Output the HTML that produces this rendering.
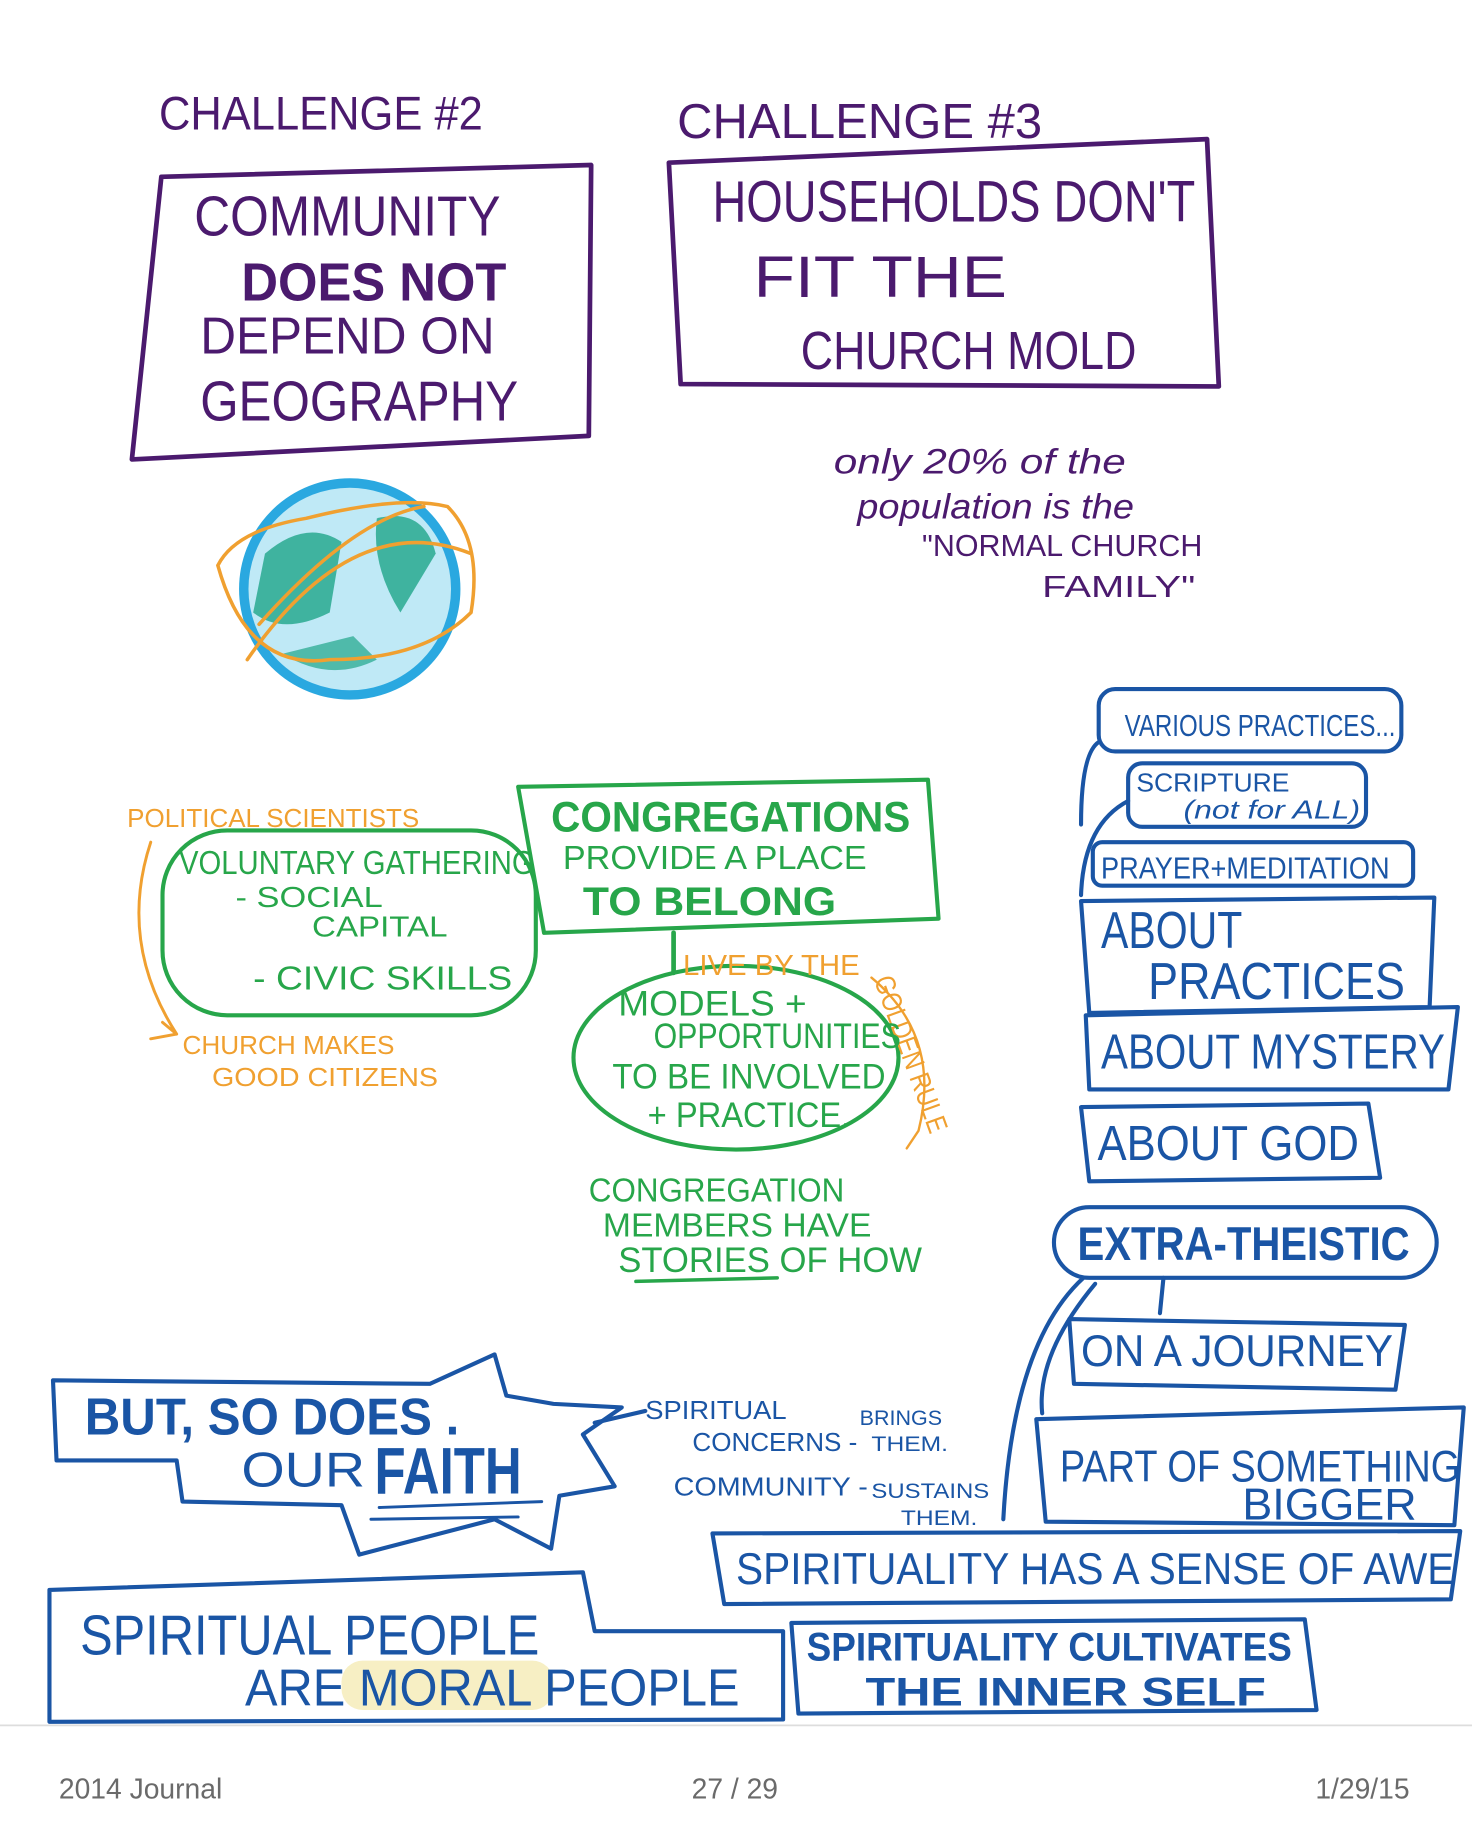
<!DOCTYPE html>
<html><head><meta charset="utf-8"><style>
html,body{margin:0;padding:0;background:#fff;width:1472px;height:1848px;overflow:hidden}
svg{display:block}
text{font-family:"Liberation Sans Narrow","Liberation Sans",sans-serif}
</style></head><body>
<svg width="1472" height="1848" viewBox="0 0 1250 1569" xmlns="http://www.w3.org/2000/svg">
<g fill="none" stroke-linejoin="round" stroke-linecap="round">
<polygon points="137,150 502,140 500,370 112,390" stroke="#4b1a6e" stroke-width="4"/>
<polygon points="568,138 1025,118 1035,328 578,326" stroke="#4b1a6e" stroke-width="4"/>
<rect x="138" y="705" width="317" height="157" rx="55" stroke="#27a64a" stroke-width="3.5"/>
<polygon points="440,668 788,662 797,780 462,792" stroke="#27a64a" stroke-width="3.5"/>
<line x1="572" y1="792" x2="572" y2="826" stroke="#27a64a" stroke-width="4"/>
<ellipse cx="625" cy="898" rx="138" ry="78" stroke="#27a64a" stroke-width="3.5"/>
<line x1="540" y1="1088" x2="660" y2="1085" stroke="#27a64a" stroke-width="3"/>
<path d="M128,715 Q100,800 150,878 M138,868 L150,878 L128,882" stroke="#f0a030" stroke-width="2.5"/>
<path d="M740,830 Q800,880 780,960 L770,975" stroke="#f0a030" stroke-width="2"/>
<circle cx="297" cy="500" r="90" fill="#bfe9f6" stroke="#2aa8e0" stroke-width="8"/>
<path d="M225,470 Q260,440 290,460 L280,520 Q240,540 215,520Z" fill="#1fa58a" stroke="none" opacity=".8"/>
<path d="M320,440 Q360,430 370,470 L340,520 Q315,480 320,440Z" fill="#1fa58a" stroke="none" opacity=".8"/>
<path d="M240,555 Q280,580 320,560 L300,540Z" fill="#1fa58a" stroke="none" opacity=".7"/>
<path d="M185,480 Q200,450 260,440 Q340,420 380,430 Q410,460 400,520 Q360,560 280,560 Q210,570 185,480 M210,560 Q300,430 400,470 M220,530 Q300,440 360,430" stroke="#f0a030" stroke-width="3"/>
<g stroke="#1a55a5" stroke-width="3.5">
<rect x="933" y="585" width="257" height="53" rx="14"/>
<rect x="958" y="648" width="202" height="54" rx="12"/>
<rect x="928" y="715" width="272" height="37" rx="8"/>
<path d="M958,680 Q920,700 918,760 M933,630 Q918,640 918,700"/>
<polygon points="918,765 1218,762 1214,855 925,860"/>
<polygon points="922,862 1238,855 1230,925 925,925"/>
<polygon points="918,940 1162,937 1172,1000 925,1003"/>
<rect x="895" y="1025" width="325" height="60" rx="30"/>
<path d="M988,1085 L985,1115 M920,1085 Q860,1140 852,1290 M930,1090 Q880,1150 885,1200"/>
<polygon points="908,1120 1193,1125 1185,1180 912,1175"/>
<polygon points="880,1205 1243,1195 1235,1295 888,1292"/>
<polygon points="605,1302 1240,1300 1232,1358 615,1362"/>
<polygon points="672,1378 1108,1375 1118,1452 678,1455"/>
<polygon points="42,1350 495,1335 505,1385 665,1385 665,1460 42,1462"/>
<path d="M45,1172 L365,1175 L420,1150 L430,1185 L470,1192 L528,1195 L495,1218 L522,1262 L475,1270 L468,1315 L420,1290 L305,1320 L290,1278 L155,1275 L150,1240 L48,1240 Z"/>
<path d="M322,1280 L460,1275 M315,1290 L440,1288" stroke-width="2.5"/>
<path d="M505,1208 L548,1198"/>
</g>
</g>
<line x1="0" y1="1465" x2="1250" y2="1465" stroke="#ddd" stroke-width="1.5"/>

<g fill="#4b1a6e">
<text x="135" y="110" font-size="40" textLength="275" lengthAdjust="spacingAndGlyphs">CHALLENGE #2</text>
<text x="575" y="117" font-size="42" textLength="310" lengthAdjust="spacingAndGlyphs">CHALLENGE #3</text>
<text x="165" y="200" font-size="48" textLength="260" lengthAdjust="spacingAndGlyphs">COMMUNITY</text>
<text x="205" y="255" font-size="46" font-weight="bold" textLength="225" lengthAdjust="spacingAndGlyphs">DOES NOT</text>
<text x="170" y="300" font-size="44" textLength="250" lengthAdjust="spacingAndGlyphs">DEPEND ON</text>
<text x="170" y="357" font-size="48" textLength="270" lengthAdjust="spacingAndGlyphs">GEOGRAPHY</text>
<text x="605" y="188" font-size="50" textLength="410" lengthAdjust="spacingAndGlyphs">HOUSEHOLDS DON'T</text>
<text x="640" y="252" font-size="50" textLength="215" lengthAdjust="spacingAndGlyphs">FIT  THE</text>
<text x="680" y="313" font-size="46" textLength="285" lengthAdjust="spacingAndGlyphs">CHURCH MOLD</text>
<text x="708" y="402" font-size="30" font-style="italic" textLength="248" lengthAdjust="spacingAndGlyphs">only 20% of the</text>
<text x="728" y="440" font-size="30" font-style="italic" textLength="235" lengthAdjust="spacingAndGlyphs">population is the</text>
<text x="783" y="472" font-size="26" textLength="238" lengthAdjust="spacingAndGlyphs">"NORMAL CHURCH</text>
<text x="885" y="507" font-size="26" textLength="130" lengthAdjust="spacingAndGlyphs">FAMILY"</text>
</g>

<g fill="#f0a030">
<text x="108" y="702" font-size="22" textLength="248" lengthAdjust="spacingAndGlyphs">POLITICAL SCIENTISTS</text>
<text x="155" y="895" font-size="22" textLength="180" lengthAdjust="spacingAndGlyphs">CHURCH MAKES</text>
<text x="180" y="922" font-size="22" textLength="192" lengthAdjust="spacingAndGlyphs">GOOD CITIZENS</text>
<text x="580" y="828" font-size="24" textLength="150" lengthAdjust="spacingAndGlyphs">LIVE BY THE</text>
<text transform="translate(742,832) rotate(70)" font-size="24" textLength="140" lengthAdjust="spacingAndGlyphs">GOLDEN RULE</text>
</g>

<g fill="#27a64a">
<text x="152" y="742" font-size="28" textLength="302" lengthAdjust="spacingAndGlyphs">VOLUNTARY GATHERING</text>
<text x="200" y="770" font-size="24" textLength="125" lengthAdjust="spacingAndGlyphs">- SOCIAL</text>
<text x="265" y="795" font-size="24" textLength="115" lengthAdjust="spacingAndGlyphs">CAPITAL</text>
<text x="215" y="840" font-size="28" textLength="220" lengthAdjust="spacingAndGlyphs">- CIVIC SKILLS</text>
<text x="468" y="706" font-size="36" font-weight="bold" textLength="305" lengthAdjust="spacingAndGlyphs">CONGREGATIONS</text>
<text x="478" y="738" font-size="28" textLength="258" lengthAdjust="spacingAndGlyphs">PROVIDE A PLACE</text>
<text x="495" y="777" font-size="34" font-weight="bold" textLength="215" lengthAdjust="spacingAndGlyphs">TO BELONG</text>
<text x="525" y="862" font-size="30" textLength="160" lengthAdjust="spacingAndGlyphs">MODELS +</text>
<text x="555" y="890" font-size="30" textLength="210" lengthAdjust="spacingAndGlyphs">OPPORTUNITIES</text>
<text x="520" y="924" font-size="30" textLength="232" lengthAdjust="spacingAndGlyphs">TO BE INVOLVED</text>
<text x="550" y="957" font-size="30" textLength="172" lengthAdjust="spacingAndGlyphs">+ PRACTICE.</text>
<text x="500" y="1020" font-size="28" textLength="217" lengthAdjust="spacingAndGlyphs">CONGREGATION</text>
<text x="512" y="1050" font-size="28" textLength="228" lengthAdjust="spacingAndGlyphs">MEMBERS HAVE</text>
<text x="525" y="1080" font-size="30" textLength="258" lengthAdjust="spacingAndGlyphs">STORIES  OF HOW</text>
</g>

<g fill="#1a55a5">
<text x="955" y="625" font-size="26" textLength="230" lengthAdjust="spacingAndGlyphs">VARIOUS PRACTICES...</text>
<text x="965" y="672" font-size="22" textLength="130" lengthAdjust="spacingAndGlyphs">SCRIPTURE</text>
<text x="1005" y="695" font-size="22" font-style="italic" textLength="150" lengthAdjust="spacingAndGlyphs">(not for ALL)</text>
<text x="935" y="746" font-size="26" textLength="245" lengthAdjust="spacingAndGlyphs">PRAYER+MEDITATION</text>
<text x="935" y="805" font-size="44" textLength="120" lengthAdjust="spacingAndGlyphs">ABOUT</text>
<text x="975" y="848" font-size="44" textLength="218" lengthAdjust="spacingAndGlyphs">PRACTICES</text>
<text x="935" y="907" font-size="42" textLength="292" lengthAdjust="spacingAndGlyphs">ABOUT MYSTERY</text>
<text x="932" y="985" font-size="42" textLength="222" lengthAdjust="spacingAndGlyphs">ABOUT GOD</text>
<text x="915" y="1070" font-size="40" font-weight="bold" textLength="282" lengthAdjust="spacingAndGlyphs">EXTRA-THEISTIC</text>
<text x="918" y="1160" font-size="38" textLength="265" lengthAdjust="spacingAndGlyphs">ON A JOURNEY</text>
<text x="900" y="1258" font-size="38" textLength="340" lengthAdjust="spacingAndGlyphs">PART OF SOMETHING</text>
<text x="1055" y="1290" font-size="38" textLength="148" lengthAdjust="spacingAndGlyphs">BIGGER</text>
<text x="625" y="1345" font-size="38" textLength="610" lengthAdjust="spacingAndGlyphs">SPIRITUALITY HAS A SENSE OF AWE</text>
<text x="685" y="1410" font-size="34" font-weight="bold" textLength="412" lengthAdjust="spacingAndGlyphs">SPIRITUALITY CULTIVATES</text>
<text x="735" y="1448" font-size="34" font-weight="bold" textLength="340" lengthAdjust="spacingAndGlyphs">THE INNER SELF</text>
<rect x="290" y="1410" width="180" height="42" rx="18" fill="#f7efc4"/>
<text x="68" y="1405" font-size="48" textLength="390" lengthAdjust="spacingAndGlyphs">SPIRITUAL PEOPLE</text>
<text x="208" y="1448" font-size="44" textLength="420" lengthAdjust="spacingAndGlyphs">ARE  MORAL  PEOPLE</text>
<text x="72" y="1218" font-size="44" font-weight="bold" textLength="318" lengthAdjust="spacingAndGlyphs">BUT, SO DOES .</text>
<text x="205" y="1262" font-size="42" textLength="105" lengthAdjust="spacingAndGlyphs">OUR</text>
<text x="318" y="1268" font-size="56" font-weight="bold" textLength="125" lengthAdjust="spacingAndGlyphs">FAITH</text>
<text x="548" y="1205" font-size="22" textLength="120" lengthAdjust="spacingAndGlyphs">SPIRITUAL</text>
<text x="588" y="1232" font-size="22" textLength="140" lengthAdjust="spacingAndGlyphs">CONCERNS -</text>
<text x="730" y="1210" font-size="18" textLength="70" lengthAdjust="spacingAndGlyphs">BRINGS</text>
<text x="740" y="1232" font-size="18" textLength="65" lengthAdjust="spacingAndGlyphs">THEM.</text>
<text x="572" y="1270" font-size="22" textLength="165" lengthAdjust="spacingAndGlyphs">COMMUNITY -</text>
<text x="740" y="1272" font-size="18" textLength="100" lengthAdjust="spacingAndGlyphs">SUSTAINS</text>
<text x="765" y="1295" font-size="18" textLength="65" lengthAdjust="spacingAndGlyphs">THEM.</text>
</g>

<g fill="#6a6a6a" font-size="24">
<text x="50" y="1527" style="font-family:'Liberation Sans',sans-serif">2014 Journal</text>
<text x="624" y="1527" text-anchor="middle" style="font-family:'Liberation Sans',sans-serif">27 / 29</text>
<text x="1197" y="1527" text-anchor="end" style="font-family:'Liberation Sans',sans-serif">1/29/15</text>
</g>
</svg>
</body></html>
